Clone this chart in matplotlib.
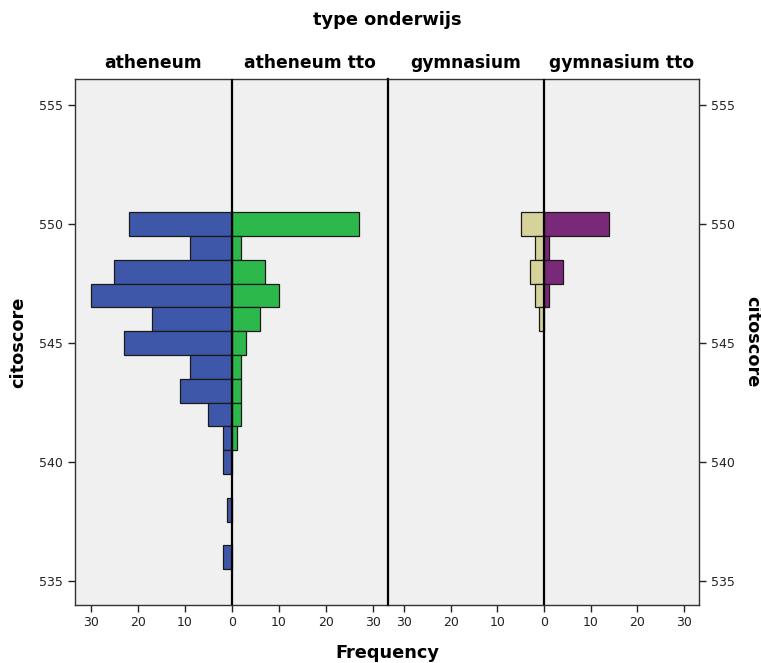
import numpy as np
import matplotlib.pyplot as plt
from matplotlib.ticker import FuncFormatter

# citoscore bins (one per integer score)
scores = [550, 549, 548, 547, 546, 545, 544, 543, 542, 541, 540, 539, 538, 537, 536]

atheneum      = [22, 9, 25, 30, 17, 23, 9, 11, 5, 2, 2, 0, 1, 0, 2]
atheneum_tto  = [27, 2, 7, 10, 6, 3, 2, 2, 2, 1, 0, 0, 0, 0, 0]
gymnasium     = [5, 2, 3, 2, 1, 0, 0, 0, 0, 0, 0, 0, 0, 0, 0]
gymnasium_tto = [14, 1, 4, 1, 0, 0, 0, 0, 0, 0, 0, 0, 0, 0, 0]

group_labels = ["atheneum", "atheneum tto", "gymnasium", "gymnasium tto"]
colors = ["#3E57A9", "#2DB84B", "#D6D39A", "#7A2878"]
y_ticks = [535, 540, 545, 550, 555]
x_ticks = [-30, -20, -10, 0, 10, 20, 30]

BG = "#F0F0F0"
EDGE = "#1a1a1a"
TXT = "#222222"

fig = plt.figure(figsize=(7.61, 6.63), dpi=100)
left, right, mid = 75 / 761, 699 / 761, 388 / 761
bottom, top = 1 - 605 / 663, 1 - 79 / 663

ax1 = fig.add_axes([left, bottom, mid - left, top - bottom])
ax2 = fig.add_axes([mid, bottom, right - mid, top - bottom], sharey=ax1)

pairs = [(ax1, atheneum, atheneum_tto, colors[0], colors[1]),
         (ax2, gymnasium, gymnasium_tto, colors[2], colors[3])]

y = np.array(scores)
for ax, neg, pos, c_neg, c_pos in pairs:
    ax.set_facecolor(BG)
    neg = np.array(neg)
    pos = np.array(pos)
    m = neg > 0
    ax.barh(y[m], -neg[m], height=1.0, color=c_neg, edgecolor=EDGE, linewidth=0.9, zorder=2)
    m = pos > 0
    ax.barh(y[m], pos[m], height=1.0, color=c_pos, edgecolor=EDGE, linewidth=0.9, zorder=2)
    ax.axvline(0, color="black", linewidth=1.6, zorder=3)
    ax.set_xlim(-33.4, 33.2)
    ax.set_xticks(x_ticks)
    ax.xaxis.set_major_formatter(FuncFormatter(lambda v, p: f"{abs(int(v))}"))
    ax.tick_params(axis="x", direction="out", length=5, width=1, colors=TXT,
                   labelsize=9, pad=3)
    for s in ax.spines.values():
        s.set_color("#333333")
        s.set_linewidth(1.0)

ax1.set_ylim(534.0, 556.1)
ax1.set_yticks(y_ticks)
ax1.tick_params(axis="y", direction="out", length=5, width=1, colors=TXT, labelsize=9,
                left=True, labelleft=True, right=False, labelright=False)
ax2.tick_params(axis="y", direction="out", length=5, width=1, colors=TXT, labelsize=9,
                left=False, labelleft=False, right=True, labelright=True)
ax2.spines["left"].set_linewidth(1.6)
ax2.spines["left"].set_color("black")
ax1.spines["right"].set_visible(False)

# group titles
centers = [(75 + 232) / 2, (232 + 388) / 2, (388 + 544) / 2, (544 + 699) / 2]
for cx, lab in zip(centers, group_labels):
    fig.text(cx / 761, 1 - 63 / 663, lab, ha="center", va="center",
             fontsize=12.3, fontweight="bold", color="black")

fig.text(387 / 761, 1 - 20 / 663, "type onderwijs", ha="center", va="center",
         fontsize=12.8, fontweight="bold", color="black")
fig.text(387 / 761, 1 - 653 / 663, "Frequency", ha="center", va="center",
         fontsize=12.8, fontweight="bold", color="black")
fig.text(18 / 761, 1 - 342 / 663, "citoscore", ha="center", va="center",
         rotation=90, fontsize=12.8, fontweight="bold", color="black")
fig.text(752 / 761, 1 - 342 / 663, "citoscore", ha="center", va="center",
         rotation=270, fontsize=12.8, fontweight="bold", color="black")

fig.savefig("out.png", dpi=100, facecolor="white")
